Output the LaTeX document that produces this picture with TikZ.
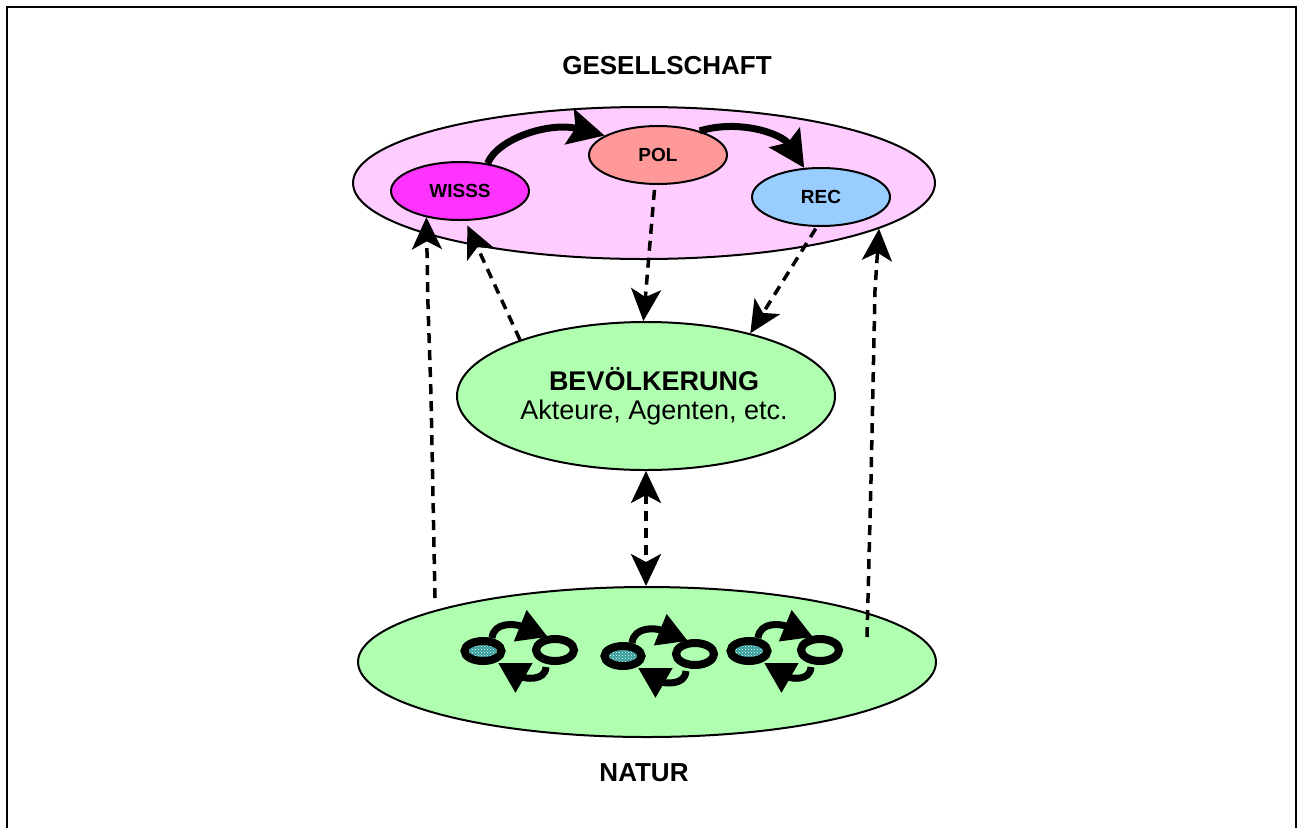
\documentclass[tikz,border=0pt]{standalone}
\usepackage{fontspec}
\setmainfont{Liberation Sans}
\usetikzlibrary{arrows.meta,shapes.geometric,patterns,calc}
\definecolor{pinkbg}{HTML}{FFCCFF}
\definecolor{wisc}{HTML}{FF33FF}
\definecolor{polc}{HTML}{FF9999}
\definecolor{recc}{HTML}{99CCFF}
\definecolor{greenc}{HTML}{B0FFB0}
\definecolor{tealc}{HTML}{339C9C}
\tikzset{
  bigell/.style={ellipse, draw, line width=2pt, inner sep=0pt},
  smallell/.style={ellipse, draw, line width=2pt, inner sep=0pt, minimum width=138pt, minimum height=58pt, font=\fontsize{19}{22}\selectfont\bfseries},
  dasharr/.style={line width=3.5pt, dash pattern=on 10pt off 7pt, -{Stealth[length=32pt 0 0,width=30pt 0 0,inset=8pt 0]}},
  dasharrboth/.style={line width=3.5pt, dash pattern=on 10pt off 7pt, {Stealth[length=32pt 0 0,width=30pt 0 0,inset=8pt 0]}-{Stealth[length=32pt 0 0,width=30pt 0 0,inset=8pt 0]}},
  thickarr/.style={line width=7pt, -{Stealth[length=36pt 0 0,width=36pt 0 0,inset=6pt 0]}},
  looparr/.style={line width=7pt, -{Triangle[length=30pt 0 0,width=32pt 0 0]}},
  lefto/.style={ellipse, draw, line width=8pt, inner sep=0pt, minimum width=37pt, minimum height=20pt, preaction={fill=tealc}, pattern=crosshatch dots, pattern color=white},
  righto/.style={ellipse, draw, line width=8pt, inner sep=0pt, minimum width=38pt, minimum height=22pt, fill=greenc},
  titletxt/.style={font=\fontsize{26}{30}\selectfont\bfseries},
}
\begin{document}
\begin{tikzpicture}[x=1pt,y=-1pt]
\useasboundingbox (0,0) rectangle (1297,828);
\fill[white] (0,0) rectangle (1297,828);
\draw[line width=2pt] (7,828) -- (7,7) -- (1296,7) -- (1296,828);

\node[titletxt] (gtitle) at (667,66) {GESELLSCHAFT};
\node[titletxt] (ntitle) at (644,773) {NATUR};

% Gesellschaft
\node[bigell, fill=pinkbg, minimum width=582pt, minimum height=152pt] (ges) at (644,183) {};
\node[smallell, fill=wisc] (wis) at (460,191) {WISSS};
\node[smallell, fill=polc] (pol) at (658,155) {POL};
\node[smallell, fill=recc] (rec) at (821,197) {REC};

% Bevoelkerung
\node[bigell, fill=greenc, minimum width=378pt, minimum height=148pt] (bev) at (646,396) {};
\node[align=center, font=\fontsize{27}{29}\selectfont] (bevtxt) at (654,396) {\textbf{BEVÖLKERUNG}\\Akteure, Agenten, etc.};

% Natur
\node[bigell, fill=greenc, minimum width=578pt, minimum height=150pt] (nat) at (647,662) {};

% thick arrows
\draw[thickarr] (wis.45) .. controls ($(wis.45)+(10,-25)$) and ($(pol.160)+(-55,-14)$) .. (pol.160);
\draw[thickarr] (pol.30) .. controls ($(pol.30)+(40,-12)$) and ($(rec.120)+(-22,-34)$) .. (rec.120);

% dashed arrows
\draw[dasharr, shorten <=5pt] (pol.264) -- (bev.92);
\draw[dasharr, shorten <=2pt] (rec.262) -- (bev.31);
\draw[dasharr, shorten >=5pt] (bev.156) -- (wis.280);
\draw[dasharrboth] (bev.south) -- (bev.south |- nat.north);

\coordinate (lfoot) at (435,598);
\coordinate (lk1) at (431,395);
\coordinate (lk2) at (428,305);
\draw[dasharr] (lfoot) -- (lk1) -- (lk2) -- (wis.218);

\coordinate (rfoot) at (867,637);
\coordinate (rk1) at (871,480);
\coordinate (rk2) at (875,290);
\draw[dasharr] (rfoot) -- (rk1) -- (rk2) -- (ges.-11);

% cycles in nature
\foreach \i/\ax/\ay/\bx/\by in {1/483/651/555/650, 2/623/656/695/654, 3/749/651/820/650}{
  \node[lefto] (a\i) at (\ax,\ay) {};
  \node[righto] (b\i) at (\bx,\by) {};
  \draw[looparr] ($(a\i)+(9,-13)$) .. controls ($(a\i)+(11,-30)$) and ($(b\i)+(-39,-26)$) .. ($(b\i)+(-7,-13)$);
  \draw[looparr] ($(b\i)+(-9,17)$) .. controls ($(b\i)+(-10,32)$) and ($(a\i)+(41,27)$) .. ($(a\i)+(15,12)$);
}
\end{tikzpicture}
\end{document}
